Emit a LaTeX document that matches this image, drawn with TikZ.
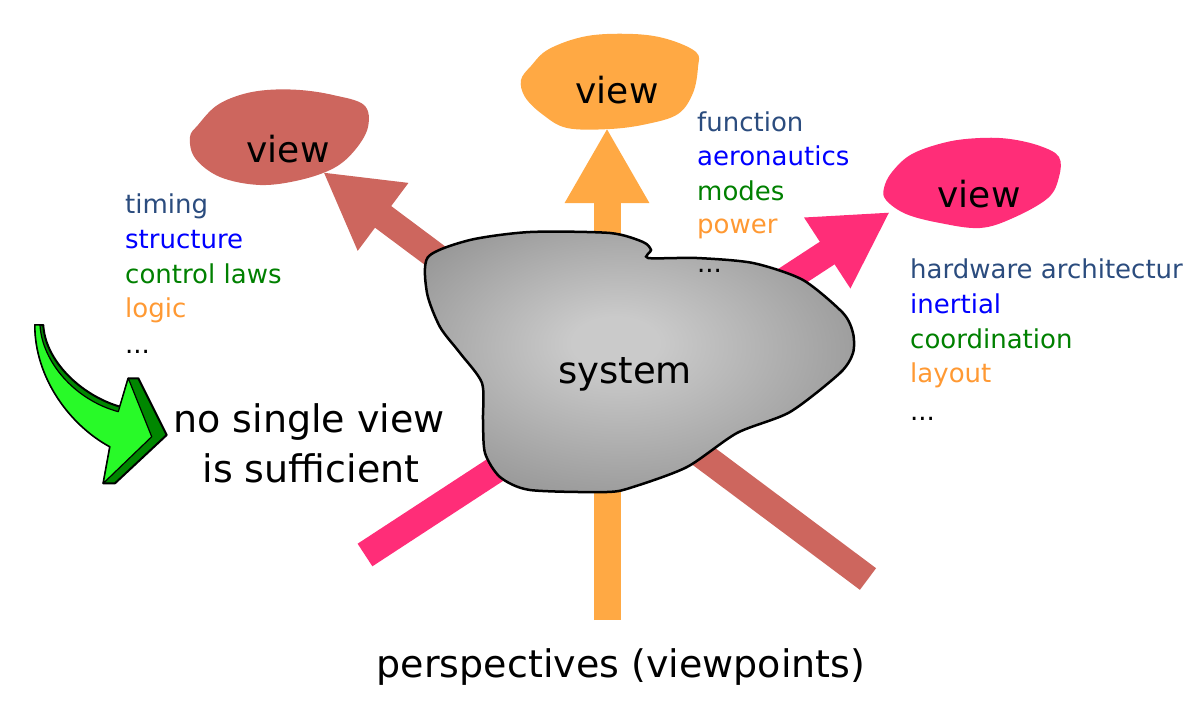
\documentclass[tikz,border=0pt]{standalone}
\usepackage{fontspec}
\setmainfont{DejaVu Sans}
\usetikzlibrary{arrows.meta}
\definecolor{vbrown}{RGB}{205,102,94}
\definecolor{vorange}{RGB}{255,169,68}
\definecolor{vpink}{RGB}{255,45,120}
\definecolor{tblue}{RGB}{43,76,126}
\definecolor{tbright}{RGB}{0,0,255}
\definecolor{tgreen}{RGB}{0,128,0}
\definecolor{torange}{RGB}{255,153,51}
\definecolor{glight}{RGB}{40,250,40}
\definecolor{gdark}{RGB}{0,135,0}
\definecolor{sysin}{RGB}{202,202,202}
\definecolor{sysout}{RGB}{110,110,110}
\pgfdeclareradialshading{sysshade}{\pgfpoint{-3bp}{4bp}}{color(0bp)=(sysin); color(5bp)=(sysin); color(50bp)=(sysout)}
\tikzset{
  listtxt/.style={anchor=base west, font=\fontsize{26}{30}\selectfont, inner sep=0pt},
  viewtxt/.style={anchor=base, font=\fontsize{36}{40}\selectfont, inner sep=0pt},
  bigtxt/.style={anchor=base, font=\fontsize{38}{44}\selectfont, inner sep=0pt},
  bigarrow/.style={line width=27pt, line cap=butt, -{Triangle[length=75pt,width=79pt]}},
}
\begin{document}
\begin{tikzpicture}[x=1pt,y=-1pt]
\useasboundingbox (0,0) rectangle (1202,704);
% arrow ends
\coordinate (bEnd) at (868,579);
\coordinate (bTip) at (323,172);
\coordinate (pEnd) at (365,555);
\coordinate (pTip) at (890,212);
\coordinate (oEnd) at (607,620);
\coordinate (oTip) at (607,128);
\draw[bigarrow, vbrown] (bEnd) -- (bTip);
\draw[bigarrow, vpink] (pEnd) -- (pTip);
\draw[bigarrow, vorange] (oEnd) -- (oTip);
% views
\fill[vbrown] plot[smooth cycle, tension=0.6] coordinates {(190,137) (198,125) (216,106) (240,95) (267,90) (300,90) (333,95) (364,105) (368,127) (355,150) (334,168) (300,180) (260,185) (220,177) (195,158)};
\fill[vorange] plot[smooth cycle, tension=0.6] coordinates {(521,80) (531,66) (549,49) (587,36) (633,34) (667,39) (696,52) (698,67) (693,93) (678,114) (647,124) (610,129) (567,128) (542,114) (525,97)};
\fill[vpink] plot[smooth cycle, tension=0.6] coordinates {(884,188) (892,172) (912,154) (947,142) (980,138) (1010,139) (1040,146) (1059,157) (1059,177) (1048,198) (1013,218) (980,228) (940,223) (906,214) (886,200)};
\node[viewtxt] (v1) at (288,162) {view};
\node[viewtxt] (v2) at (617,103) {view};
\node[viewtxt] (v3) at (979,207) {view};
% system blob
\shade[draw=black, line width=2.5pt, shading=sysshade] plot[smooth cycle, tension=0.45] coordinates {(428,257) (470,240) (530,232) (610,233) (643,242) (651,250) (648,258) (697,258) (753,263) (803,280) (843,313) (853,333) (853,353) (840,373) (790,412) (737,433) (687,467) (633,487) (607,492) (530,490) (500,477) (485,453) (483,420) (482,383) (460,353) (440,327) (427,293)};
\node[bigtxt, font=\fontsize{37}{42}\selectfont] (sys) at (625,383) {system};
% lists
\node[listtxt, tblue] (l1) at (125,213) {timing};
\node[listtxt, tbright] (l2) at (125,248) {structure};
\node[listtxt, tgreen] (l3) at (125,283) {control laws};
\node[listtxt, torange] (l4) at (125,317) {logic};
\node[listtxt] (l5) at (125,353) {...};
\node[listtxt, tblue] (t1) at (697,131) {function};
\node[listtxt, tbright] (t2) at (697,165) {aeronautics};
\node[listtxt, tgreen] (t3) at (697,200) {modes};
\node[listtxt, torange] (t4) at (697,233) {power};
\node[listtxt] (t5) at (697,272) {...};
\node[listtxt, tblue] (r1) at (910,278) {hardware architectur};
\node[listtxt, tbright] (r2) at (910,313) {inertial};
\node[listtxt, tgreen] (r3) at (910,348) {coordination};
\node[listtxt, torange] (r4) at (910,382) {layout};
\node[listtxt] (r5) at (910,420) {...};
% green arrow
\filldraw[fill=gdark, draw=black, line width=2pt, line join=round]
  (35,325) -- (43.3,325) .. controls (45,360) and (80,395) .. (120,406.7)
  -- (128.3,378.3) -- (138.3,378.3) -- (166.7,435) -- (115,483.3) -- (103.3,483.3)
  -- (110,446.7) .. controls (70,425) and (35,378) .. (35,325) -- cycle;
\filldraw[fill=glight, draw=black, line width=1.2pt, line join=round]
  (35,325) -- (40,325) .. controls (42,362) and (75,400) .. (118.3,411.7)
  -- (128.3,378.3) -- (151.7,436.7) -- (103.3,483.3)
  -- (110,446.7) .. controls (70,425) and (35,378) .. (35,325) -- cycle;
% captions
\node[bigtxt] (ns1) at (309,432) {no single view};
\node[bigtxt] (ns2) at (311,482) {is sufficient};
\node[bigtxt] (persp) at (621,677) {perspectives (viewpoints)};
\end{tikzpicture}
\end{document}
